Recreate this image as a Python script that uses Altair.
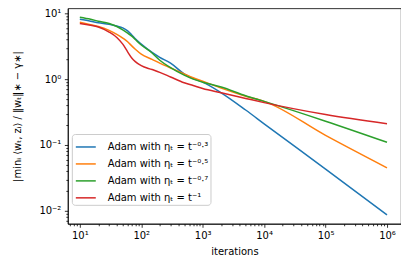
import altair as alt
import pandas as pd

iters = [10, 15, 20, 30, 40, 50, 60, 70, 80, 100, 150, 200, 300, 500, 700,
         1000, 2000, 5000, 1e4, 1e5, 1e6]
s03 = [8.1, 7.6, 7.2, 6.8, 6.4, 6.0, 5.4, 4.7, 4.1, 3.4, 2.55, 2.15, 1.75, 1.2, 1.02,
       0.9, 0.62, 0.34, 0.21, 0.043, 0.0087]
s05 = [7.3, 6.7, 6.3, 5.5, 4.8, 4.2, 3.7, 3.2, 2.85, 2.4, 2.0, 1.75, 1.48, 1.2, 1.05,
       0.93, 0.73, 0.55, 0.46, 0.14, 0.045]
s07 = [8.7, 8.1, 7.6, 7.0, 6.3, 5.6, 5.0, 4.5, 4.0, 3.3, 2.5, 1.94, 1.5, 1.15, 1.0,
       0.9, 0.76, 0.56, 0.46, 0.23, 0.11]
s10 = [7.0, 6.6, 6.2, 5.2, 4.3, 3.4, 2.6, 2.1, 1.85, 1.6, 1.4, 1.27, 1.08, 0.88, 0.8,
       0.72, 0.62, 0.51, 0.44, 0.29, 0.21]

labels = ["Adam with ηₜ = t⁻⁰·³", "Adam with ηₜ = t⁻⁰·⁵",
          "Adam with ηₜ = t⁻⁰·⁷", "Adam with ηₜ = t⁻¹"]
colors = ["#1f77b4", "#ff7f0e", "#2ca02c", "#d62728"]

decade_labels = ["10⁻³", "10⁻²", "10⁻¹", "10⁰", "10¹", "10²", "10³", "10⁴", "10⁵", "10⁶"]
x_decades = [0, 1, 2, 3, 4, 5, 6]
y_decades = [-3, -2, -1, 0, 1]
subs = [1, 2, 3, 4, 5, 6, 7, 8, 9]

x_ticks = [s * 10.0 ** d for d in x_decades for s in subs]
y_ticks = [s * 10.0 ** d for d in y_decades for s in subs]

rows = []
for lab, ser in zip(labels, [s03, s05, s07, s10]):
    for x, y in zip(iters, ser):
        rows.append({"iter": x, "val": y, "series": lab})
df = pd.DataFrame(rows)

lab_arr = "[" + ",".join("'" + l + "'" for l in decade_labels) + "]"
lg = "log(datum.value)/LN10"
is_major = f"abs({lg} - round({lg})) < 1e-6"
label_expr = f"{is_major} ? {lab_arr}[round({lg}) + 3] : ''"
tick_size = {"condition": {"test": is_major, "value": 3.5}, "value": 2}

xdom = [10 ** 0.805, 10 ** 6.228]
ydom = [10 ** -2.197, 10 ** 1.076]

chart = alt.Chart(df).mark_line(strokeWidth=1.5, interpolate="monotone").encode(
    x=alt.X("iter:Q",
            scale=alt.Scale(type="log", domain=xdom, nice=False),
            axis=alt.Axis(values=x_ticks, labelExpr=label_expr, tickSize=tick_size,
                          title="iterations", labelOverlap=False, labelFlush=False,
                          titlePadding=6)),
    y=alt.Y("val:Q",
            scale=alt.Scale(type="log", domain=ydom, nice=False),
            axis=alt.Axis(values=y_ticks, labelExpr=label_expr, tickSize=tick_size,
                          title="|minᵢ ⟨wₜ, zᵢ⟩ / ‖wₜ‖∗ − γ∗|", labelOverlap=False,
                          labelFlush=False, titlePadding=16)),
    color=alt.Color("series:N",
                    scale=alt.Scale(domain=labels, range=colors),
                    legend=alt.Legend(title=None, orient="none", legendX=4, legendY=126,
                                      symbolType="stroke", symbolSize=400,
                                      symbolStrokeWidth=1.5, rowPadding=1, padding=2,
                                      symbolOffset=1,
                                      labelOffset=11, labelFontSize=10,
                                      labelFont="DejaVu Sans", labelColor="black",
                                      strokeColor="#cccccc",
                                      fillColor="rgba(255,255,255,0.8)",
                                      cornerRadius=3)),
    order=alt.Order("iter:Q"),
).properties(
    width=334, height=216,
    autosize=alt.AutoSizeParams(type="none"),
    padding={"left": 60, "top": 0, "right": 0, "bottom": 43},
).configure_view(
    stroke="black", strokeWidth=0.8
).configure_axis(
    grid=False, domainColor="black", domainWidth=0.8, tickColor="black", tickWidth=0.8,
    labelFont="DejaVu Sans", labelFontSize=10, labelColor="black", labelPadding=3.5,
    titleFont="DejaVu Sans", titleFontSize=10, titleFontWeight="normal", titleColor="black"
)

chart.save("out.html", embed_options={"renderer": "svg", "actions": False})
